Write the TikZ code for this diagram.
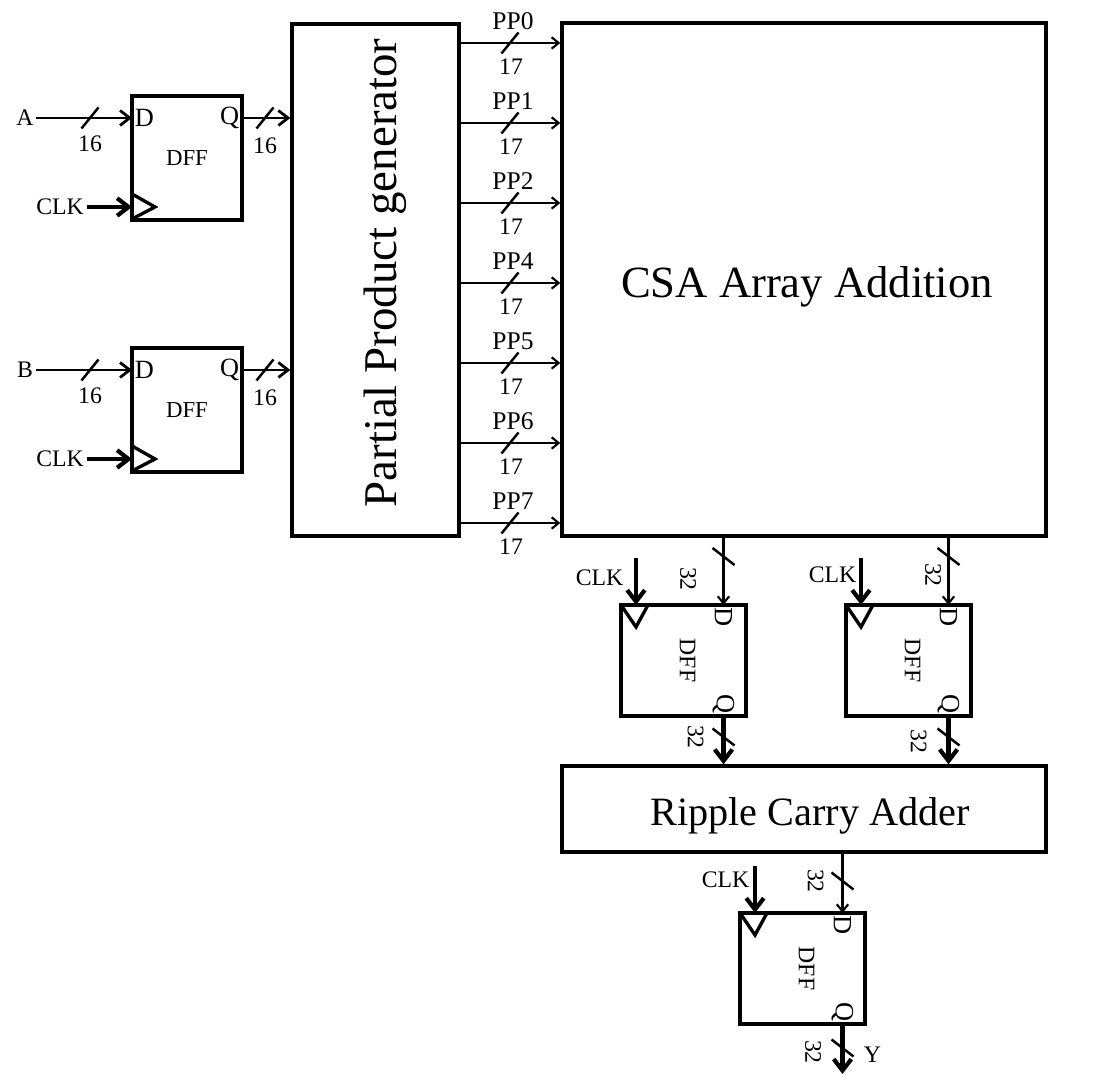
\documentclass[tikz,border=0pt]{standalone}
\usepackage{fontspec}
\setmainfont{Liberation Serif}
\usetikzlibrary{arrows.meta,positioning,calc}

\begin{document}
\begin{tikzpicture}[
  >={Straight Barb},
  line width=1.2pt,
  blk/.style={draw, line width=1.9pt, inner sep=0pt},
  dffbox/.style={blk, minimum width=2.5cm, minimum height=2.22cm},
  pinlbl/.style={font=\fontsize{15}{15}\selectfont, inner sep=1pt},
  lbl/.style={font=\fontsize{13.5}{14}\selectfont, inner sep=1pt},
  pplbl/.style={font=\fontsize{14.5}{15}\selectfont, inner sep=1pt},
  wire/.style={-{Straight Barb[length=4pt,width=6.5pt]}, line width=1.2pt},
  buswire/.style={-{Straight Barb[length=5.5pt,width=8.5pt]}, line width=1.6pt},
  boldwire/.style={-{Straight Barb[length=6.5pt,width=10pt]}, line width=2.4pt},
  busmark/.style={line width=1.4pt},
]
\useasboundingbox (0,0) rectangle (22.12,21.6);

% main blocks
\node[blk, minimum width=3.34cm, minimum height=10.24cm] (ppg) at (7.51,16) {};
\node[font=\fontsize{26.7}{27}\selectfont, rotate=90] (ppgtxt) at (7.7,16.14) {Partial Product generator};
\node[blk, minimum width=9.68cm, minimum height=10.26cm, font=\fontsize{25.4}{26}\selectfont] (csa) at (16.08,16.01) {\hspace{0.12cm}\raisebox{-0.14cm}[\height][\depth]{CSA Array Addition}};
\node[blk, minimum width=9.68cm, minimum height=1.72cm, font=\fontsize{22.9}{23}\selectfont] (rca) at (16.08,5.42) {\hspace{0.24cm}\raisebox{-0.14cm}[\height][\depth]{Ripple Carry Adder}};

% input registers
\foreach \nm/\lab/\dy in {a/A/0,b/B/5.04} {
  \node[blk, minimum width=2.2cm, minimum height=2.48cm, font=\fontsize{13}{13}\selectfont] (dff\nm) at (3.74,18.44-\dy) {DFF};
  \coordinate (dff\nm-d) at (2.64,19.24-\dy);
  \coordinate (dff\nm-q) at (4.84,19.24-\dy);
  \coordinate (dff\nm-c) at (2.64,17.46-\dy);
  \node[pinlbl, anchor=west] (dff\nm-dl) at (dff\nm-d) {D};
  \node[pinlbl, anchor=east] (dff\nm-ql) at (dff\nm-q) {Q};
  \draw[line width=1.9pt] (2.64,17.72-\dy) -- (3.1,17.46-\dy) -- (2.64,17.22-\dy);
  \node[lbl] (in\nm) at (0.5,19.24-\dy) {\lab};
  \draw[buswire] (in\nm) -- (dff\nm-d);
  \draw[busmark] (1.63,19.03-\dy) -- ++(0.34,0.42);
  \node[lbl] (in\nm-w) at (1.8,18.72-\dy) {16};
  \draw[buswire] (dff\nm-q) -- (ppg.west |- dff\nm-q);
  \draw[busmark] (5.13,19.03-\dy) -- ++(0.34,0.42);
  \node[lbl] (out\nm-w) at (5.3,18.68-\dy) {16};
  \node[lbl] (clk\nm) at (1.2,17.46-\dy) {CLK};
  \draw[boldwire] (clk\nm) -- (dff\nm-c);
}

% partial products
\foreach \i/\p in {0/0,1/1,2/2,3/4,4/5,5/6,6/7} {
  \coordinate (pp\i) at (10.2,20.74-1.6*\i);
  \draw[wire] (ppg.east |- pp\i) -- (csa.west |- pp\i);
  \draw[busmark] (10.03,20.53-1.6*\i) -- ++(0.34,0.42);
  \node[pplbl] (ppl\i) at (10.26,21.18-1.6*\i) {PP\p};
  \node[lbl] (ppw\i) at (10.22,20.26-1.6*\i) {17};
}

% pipeline registers
\foreach \nm/\l/\t in {c/12.42/9.5,d/16.92/9.5,e/14.8/3.34} {
  \node[dffbox] (dff\nm) at (\l+1.25,\t-1.11) {};
  \coordinate (dff\nm-d) at (\l+2.05,\t);
  \coordinate (dff\nm-q) at (\l+2.05,\t-2.22);
  \coordinate (dff\nm-c) at (\l+0.3,\t);
  \coordinate (clk\nm-top) at (\l+0.3,\t+0.94);
  \node[pinlbl, rotate=-90, anchor=west] (dff\nm-dl) at (dff\nm-d) {D};
  \node[pinlbl, rotate=-90, anchor=east] (dff\nm-ql) at (dff\nm-q) {Q};
  \node[lbl, rotate=-90] (dff\nm-t) at (\l+1.33,\t-1.11) {DFF};
  \draw[line width=1.9pt] (\l,\t) -- (\l+0.3,\t-0.44) -- (\l+0.54,\t);
  \draw[boldwire] (clk\nm-top) -- (dff\nm-c);
}
\node[lbl] (clkc) at (11.99,10.05) {CLK};
\node[lbl] (clkd) at (16.65,10.11) {CLK};
\node[lbl] (clke) at (14.51,4.0) {CLK};

\draw[wire] (csa.south -| dffc-d) -- (dffc-d);
\draw[wire] (csa.south -| dffd-d) -- (dffd-d);
\draw[boldwire] (dffc-q) -- (rca.north -| dffc-q);
\draw[boldwire] (dffd-q) -- (rca.north -| dffd-q);
\draw[wire] (rca.south -| dffe-d) -- (dffe-d);
\coordinate (yout) at (16.85,0.12);
\draw[boldwire] (dffe-q) -- (yout);

\draw[busmark] (14.25,10.64) -- ++(0.44,-0.34);
\draw[busmark] (18.75,10.64) -- ++(0.44,-0.34);
\draw[busmark] (14.25,7.03) -- ++(0.44,-0.34);
\draw[busmark] (18.75,7.03) -- ++(0.44,-0.34);
\draw[busmark] (16.63,4.15) -- ++(0.44,-0.34);
\draw[busmark] (16.63,0.81) -- ++(0.44,-0.34);

\node[lbl, rotate=-90] (wc1) at (13.76,10.02) {32};
\node[lbl, rotate=-90] (wd1) at (18.66,10.1) {32};
\node[lbl, rotate=-90] (wc2) at (13.91,6.86) {32};
\node[lbl, rotate=-90] (wd2) at (18.37,6.77) {32};
\node[lbl, rotate=-90] (we1) at (16.31,3.98) {32};
\node[lbl, rotate=-90] (we2) at (16.26,0.56) {32};
\node[lbl] (yl) at (17.45,0.5) {Y};

\end{tikzpicture}
\end{document}
